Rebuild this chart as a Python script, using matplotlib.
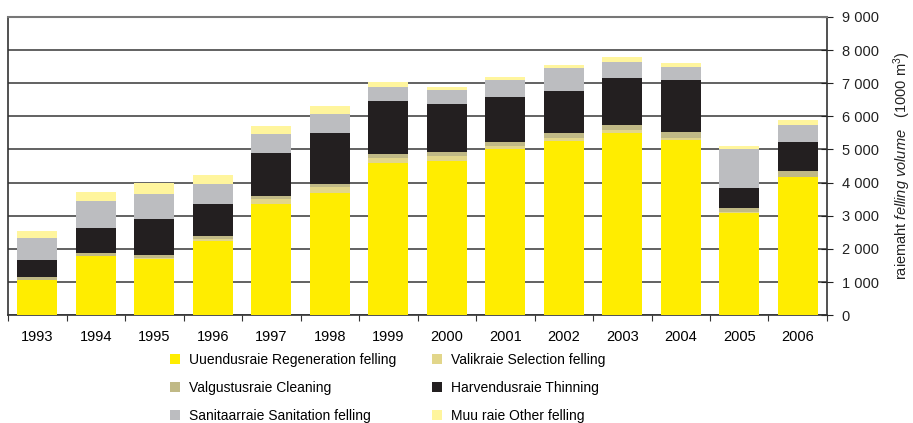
import matplotlib.pyplot as plt
from matplotlib.ticker import FuncFormatter
import numpy as np

plt.rcParams['font.family'] = ['Liberation Sans', 'DejaVu Sans']
plt.rcParams['mathtext.fontset'] = 'custom'
plt.rcParams['mathtext.rm'] = 'Liberation Sans'
plt.rcParams['mathtext.it'] = 'Liberation Sans:italic'

# ── DATA (1000 m3) ────────────────────────────────────────
years = ['1993', '1994', '1995', '1996', '1997', '1998', '1999',
         '2000', '2001', '2002', '2003', '2004', '2005', '2006']
regeneration = [1060, 1780, 1690, 2240, 3350, 3690, 4590, 4650, 5010, 5260, 5500, 5290, 3080, 4170]
selection = [0, 0, 30, 60, 150, 180, 150, 150, 90, 90, 90, 60, 30, 0]
cleaning = [90, 90, 90, 90, 90, 90, 120, 120, 120, 150, 150, 180, 120, 180]
thinning = [510, 760, 1090, 970, 1300, 1540, 1600, 1450, 1360, 1270, 1420, 1570, 600, 880]
sanitation = [680, 810, 750, 600, 570, 570, 420, 420, 510, 700, 480, 390, 1180, 510]
other = [200, 270, 330, 270, 240, 240, 150, 90, 90, 90, 150, 120, 90, 150]

series = [
    ('Uuendusraie Regeneration felling', regeneration, '#FFED00'),
    ('Valikraie Selection felling', selection, '#E2D68A'),
    ('Valgustusraie Cleaning', cleaning, '#C0B986'),
    ('Harvendusraie Thinning', thinning, '#231F20'),
    ('Sanitaarraie Sanitation felling', sanitation, '#BCBDC0'),
    ('Muu raie Other felling', other, '#FFF59D'),
]

# ── PLOT ──────────────────────────────────────────────────
fig = plt.figure(figsize=(9.13, 4.23), dpi=100)
ax = fig.add_axes([0.0088, 0.255, 0.897, 0.705])

x = np.arange(len(years))
bottom = np.zeros(len(years))
bars = {}
for name, vals, col in series:
    bars[name] = ax.bar(x, vals, width=0.68, bottom=bottom, color=col,
                        label=name, zorder=3)
    bottom += np.array(vals)

ax.set_xlim(-0.5, len(years) - 0.5)
ax.set_ylim(0, 9000)
ax.set_yticks(range(0, 9001, 1000))
ax.yaxis.set_major_formatter(FuncFormatter(lambda v, p: f'{int(v):,}'.replace(',', ' ')))
ax.yaxis.tick_right()
ax.yaxis.set_label_position('right')
ax.tick_params(axis='y', direction='inout', length=9, labelsize=10.5, colors='#222222', pad=6)
ax.grid(axis='y', color='#555555', linewidth=1.3, zorder=0)

# x ticks between categories, labels centered
ax.set_xticks(np.arange(-0.5, len(years), 1))
ax.set_xticklabels([])
ax.set_xticks(x, minor=True)
ax.set_xticklabels(years, minor=True, fontsize=10.5)
ax.tick_params(axis='x', which='major', direction='out', length=4, color='#333333')
ax.tick_params(axis='x', which='minor', length=0, pad=11)

for s in ['left', 'bottom', 'right']:
    ax.spines[s].set_color('#333333')
    ax.spines[s].set_linewidth(1.2)
ax.spines['top'].set_color('#777777')
ax.spines['top'].set_linewidth(1.5)

ax.set_ylabel(r'raiemaht $\it{felling\ volume}$   (1000 m$^3$)', fontsize=10.5,
              labelpad=9, color='#222222')

order = [0, 2, 4, 1, 3, 5]
handles = [bars[series[i][0]] for i in order]
labels = [series[i][0] for i in order]
fig.legend(handles, labels, ncol=2, loc='upper left', bbox_to_anchor=(0.186, 0.166),
           frameon=False, fontsize=10, handlelength=0.75, handleheight=0.75,
           handletextpad=0.6, columnspacing=2.6, labelspacing=1.0,
           borderaxespad=0, borderpad=0)

fig.savefig('out.png', dpi=100)
